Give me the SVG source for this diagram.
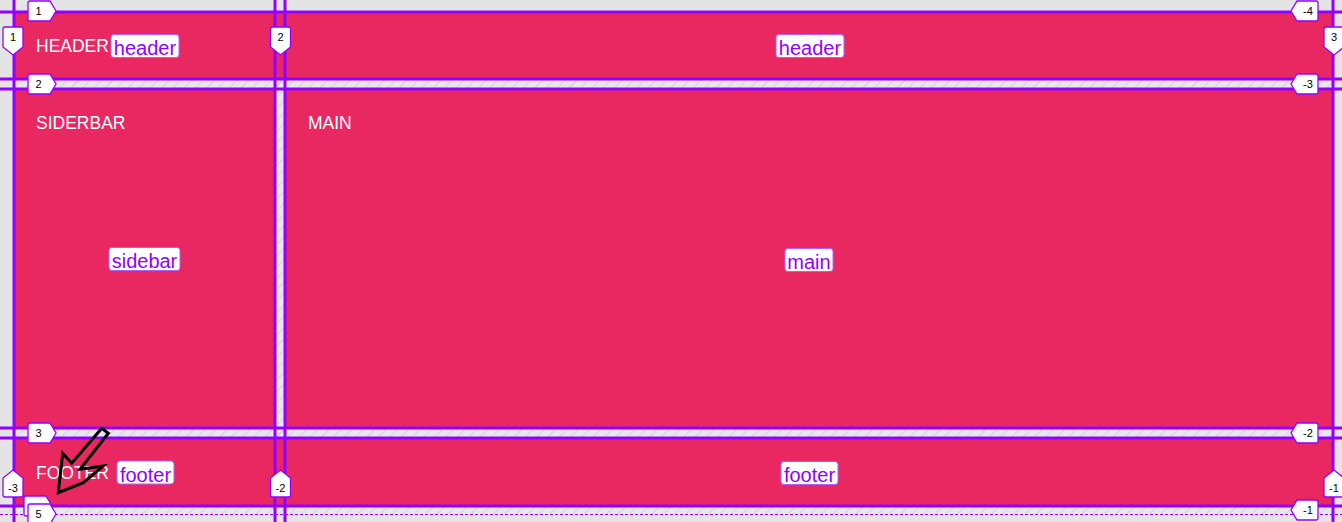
<svg xmlns="http://www.w3.org/2000/svg" width="1342" height="522" viewBox="0 0 1342 522">
<style>
.cell{fill:#e92862}
.gl{stroke:#9400ff;stroke-width:3;fill:none}
.gd{stroke:#9400ff;stroke-width:1;stroke-dasharray:3 2;fill:none}
.ct{font-family:"Liberation Sans",Arial,sans-serif;font-size:17.5px;fill:#ffffff}
.lb{fill:#ffffff;stroke:#b060ff;stroke-width:1}
.lt{font-family:"Liberation Sans",Arial,sans-serif;font-size:20px;fill:#9400ff;text-anchor:middle}
.bd{fill:#ffffff;stroke:#9400ff;stroke-width:1.3}
.bn{font-family:"Liberation Sans",Arial,sans-serif;font-size:11px;fill:#000000;text-anchor:middle}
</style>
<defs>
<pattern id="hatch" patternUnits="userSpaceOnUse" width="8" height="8" patternTransform="rotate(45)">
<line x1="0" y1="0" x2="0" y2="8" stroke="#9400ff" stroke-opacity="0.22" stroke-width="1.2"/>
</pattern>
<path id="bR" d="M2,-10 H22 L28,0 L22,10 H2 Q0,10 0,8 V-8 Q0,-10 2,-10 Z"/>
<path id="bL" d="M-2,-10 H-21 L-27,0 L-21,10 H-2 Q0,10 0,8 V-8 Q0,-10 -2,-10 Z"/>
<path id="bD" d="M-10,29 Q-10,27 -8,27 H8 Q10,27 10,29 V47 L0,55 L-10,47 Z"/>
<path id="bU" d="M-10,495 Q-10,497 -8,497 H8 Q10,497 10,495 V478 L0,470 L-10,478 Z"/>
</defs>
<rect x="0" y="0" width="1342" height="522" fill="#e4e4e4"/>
<rect x="276" y="89" width="9" height="340" fill="#e8e8e8"/>
<rect x="14" y="79" width="1320" height="10" fill="#e8e8e8"/>
<rect x="14" y="428" width="1320" height="10" fill="#e8e8e8"/>
<rect x="14" y="506" width="1320" height="8" fill="#e8e8e8"/>

<g id="header">
<rect class="cell" x="14" y="13" width="1319" height="66"/>
<text class="ct" x="36" y="52">HEADER</text>
</g>
<g id="sidebar">
<rect class="cell" x="14" y="89" width="261" height="339"/>
<text class="ct" x="36" y="129">SIDERBAR</text>
</g>
<g id="main">
<rect class="cell" x="285" y="89" width="1048" height="339"/>
<text class="ct" x="308" y="129">MAIN</text>
</g>
<g id="footer">
<rect class="cell" x="14" y="438" width="1319" height="68"/>
<text class="ct" x="36" y="479">FOOTER</text>
</g>

<g id="gaps" fill="url(#hatch)">
<rect x="276" y="13" width="8" height="493"/>
<rect x="15" y="80" width="1317" height="8"/>
<rect x="15" y="429" width="1317" height="8"/>
<rect x="15" y="507" width="1317" height="7"/>
</g>

<g id="connectors">
<line class="gl" x1="14" y1="0" x2="14" y2="522"/>
<line class="gl" x1="275" y1="0" x2="275" y2="522"/>
<line class="gl" x1="285" y1="0" x2="285" y2="522"/>
<line class="gl" x1="1333" y1="0" x2="1333" y2="522"/>
<line class="gl" x1="0" y1="12" x2="1342" y2="12"/>
<line class="gl" x1="0" y1="79" x2="1342" y2="79"/>
<line class="gl" x1="0" y1="89" x2="1342" y2="89"/>
<line class="gl" x1="0" y1="428" x2="1342" y2="428"/>
<line class="gl" x1="0" y1="438" x2="1342" y2="438"/>
<line class="gl" x1="0" y1="506" x2="1342" y2="506"/>
<line class="gd" x1="0" y1="514.5" x2="1342" y2="514.5"/>
</g>

<g id="area-names">
<rect class="lb" x="111" y="34.5" width="68" height="23" rx="3"/>
<text class="lt" x="145" y="55">header</text>
<rect class="lb" x="776" y="34.5" width="68" height="23" rx="3"/>
<text class="lt" x="810" y="55">header</text>
<rect class="lb" x="109" y="247.5" width="71" height="23" rx="3"/>
<text class="lt" x="144.5" y="268">sidebar</text>
<rect class="lb" x="785" y="248.5" width="48" height="23" rx="3"/>
<text class="lt" x="809" y="269">main</text>
<rect class="lb" x="117" y="461" width="57" height="23" rx="3"/>
<text class="lt" x="145.5" y="481.5">footer</text>
<rect class="lb" x="781" y="461.5" width="57" height="23" rx="3"/>
<text class="lt" x="809.5" y="482">footer</text>
</g>

<g id="line-numbers">
<use href="#bR" class="bd" x="28" y="11"/><text class="bn" x="38.5" y="15">1</text>
<use href="#bR" class="bd" x="28" y="84"/><text class="bn" x="38.5" y="88">2</text>
<use href="#bR" class="bd" x="28" y="433"/><text class="bn" x="38.5" y="437">3</text>
<use href="#bR" class="bd" x="24" y="506"/>
<use href="#bR" class="bd" x="28" y="514"/><text class="bn" x="38.5" y="518">5</text>

<use href="#bL" class="bd" x="1318" y="11"/><text class="bn" x="1308" y="15">-4</text>
<use href="#bL" class="bd" x="1318" y="84"/><text class="bn" x="1308" y="88">-3</text>
<use href="#bL" class="bd" x="1318" y="433"/><text class="bn" x="1308" y="437">-2</text>
<use href="#bL" class="bd" x="1318" y="510"/><text class="bn" x="1308" y="514">-1</text>

<use href="#bD" class="bd" x="13" y="0"/><text class="bn" x="13" y="41">1</text>
<use href="#bD" class="bd" x="280.5" y="0"/><text class="bn" x="280.5" y="41">2</text>
<use href="#bD" class="bd" x="1334" y="0"/><text class="bn" x="1334" y="41">3</text>

<use href="#bU" class="bd" x="13" y="0"/><text class="bn" x="13" y="492">-3</text>
<use href="#bU" class="bd" x="280.5" y="0"/><text class="bn" x="280.5" y="492">-2</text>
<use href="#bU" class="bd" x="1334" y="0"/><text class="bn" x="1334" y="492">-1</text>
</g>

<g id="cursor">
<polygon points="101.7,428.3 108.3,433.3 80,469.3 103.3,466 83.3,482.7 58.3,492.7 62.7,453.3 71.7,463.3" fill="none" stroke="#000000" stroke-width="3" stroke-linejoin="miter"/>
</g>
</svg>
